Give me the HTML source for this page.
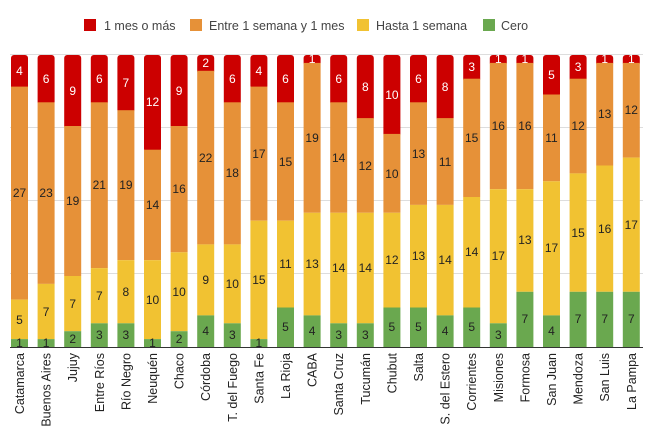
<!DOCTYPE html>
<html><head><meta charset="utf-8"><style>
body{margin:0;background:#fff;}
svg{display:block;font-family:"Liberation Sans",Arial,sans-serif;}
.w{fill:#fff;font-size:12px;text-anchor:middle}
.d{fill:#222;font-size:12px;text-anchor:middle}
.x{fill:#222;font-size:12.5px;text-anchor:end}
</style></head><body>
<svg width="651" height="448" viewBox="0 0 651 448">
<rect width="651" height="448" fill="#fff"/>
<g font-size="12.5" fill="#444">
<rect x="84" y="19" width="12" height="12" fill="#cc0000"/><text x="104" y="30">1 mes o más</text>
<rect x="190" y="19" width="12" height="12" fill="#e69138"/><text x="209" y="30">Entre 1 semana y 1 mes</text>
<rect x="357" y="19" width="12" height="12" fill="#f1c232"/><text x="376" y="30">Hasta 1 semana</text>
<rect x="483" y="19" width="12" height="12" fill="#6aa84f"/><text x="501" y="30">Cero</text>
</g>
<g stroke="#ddd" stroke-width="1">
<line x1="10" x2="643" y1="54.5" y2="54.5"/><line x1="10" x2="643" y1="127.5" y2="127.5"/><line x1="10" x2="643" y1="200.5" y2="200.5"/><line x1="10" x2="643" y1="273.5" y2="273.5"/>
</g>
<defs>
<g id="lbl"></g>
</defs>
<!-- bars: red(55..y3), orange(y3..y2), yellow(y2..y1), green(y1..347) -->
<g transform="translate(11,0)"><rect y="55" width="17" height="35" rx="3" fill="#cc0000"/><rect y="86.6" width="17" height="213" fill="#e69138"/><rect y="299.6" width="17" height="39.5" fill="#f1c232"/><rect y="339.1" width="17" height="7.9" fill="#6aa84f"/>
<text class="w" x="8.5" y="75">4</text><text class="d" x="8.5" y="197">27</text><text class="d" x="8.5" y="324">5</text><text class="d" x="8.5" y="347">1</text>
<text class="x" transform="translate(13,353) rotate(-90)">Catamarca</text></g>
<g transform="translate(37.6,0)"><rect y="55" width="17" height="50" rx="3" fill="#cc0000"/><rect y="102.3" width="17" height="181.6" fill="#e69138"/><rect y="283.9" width="17" height="55.2" fill="#f1c232"/><rect y="339.1" width="17" height="7.9" fill="#6aa84f"/>
<text class="w" x="8.5" y="83">6</text><text class="d" x="8.5" y="197">23</text><text class="d" x="8.5" y="316">7</text><text class="d" x="8.5" y="347">1</text>
<text class="x" transform="translate(13,353) rotate(-90)">Buenos Aires</text></g>
<g transform="translate(64.2,0)"><rect y="55" width="17" height="74" rx="3" fill="#cc0000"/><rect y="126" width="17" height="150" fill="#e69138"/><rect y="276" width="17" height="55.2" fill="#f1c232"/><rect y="331.2" width="17" height="15.8" fill="#6aa84f"/>
<text class="w" x="8.5" y="95">9</text><text class="d" x="8.5" y="205">19</text><text class="d" x="8.5" y="308">7</text><text class="d" x="8.5" y="343">2</text>
<text class="x" transform="translate(13,353) rotate(-90)">Jujuy</text></g>
<g transform="translate(90.8,0)"><rect y="55" width="17" height="50" rx="3" fill="#cc0000"/><rect y="102.3" width="17" height="165.8" fill="#e69138"/><rect y="268.1" width="17" height="55.2" fill="#f1c232"/><rect y="323.3" width="17" height="23.7" fill="#6aa84f"/>
<text class="w" x="8.5" y="83">6</text><text class="d" x="8.5" y="189">21</text><text class="d" x="8.5" y="300">7</text><text class="d" x="8.5" y="339">3</text>
<text class="x" transform="translate(13,353) rotate(-90)">Entre Ríos</text></g>
<g transform="translate(117.4,0)"><rect y="55" width="17" height="58" rx="3" fill="#cc0000"/><rect y="110.2" width="17" height="150" fill="#e69138"/><rect y="260.2" width="17" height="63.1" fill="#f1c232"/><rect y="323.3" width="17" height="23.7" fill="#6aa84f"/>
<text class="w" x="8.5" y="87">7</text><text class="d" x="8.5" y="189">19</text><text class="d" x="8.5" y="296">8</text><text class="d" x="8.5" y="339">3</text>
<text class="x" transform="translate(13,353) rotate(-90)">Río Negro</text></g>
<g transform="translate(144,0)"><rect y="55" width="17" height="97" rx="3" fill="#cc0000"/><rect y="149.7" width="17" height="110.5" fill="#e69138"/><rect y="260.2" width="17" height="78.9" fill="#f1c232"/><rect y="339.1" width="17" height="7.9" fill="#6aa84f"/>
<text class="w" x="8.5" y="106">12</text><text class="d" x="8.5" y="209">14</text><text class="d" x="8.5" y="304">10</text><text class="d" x="8.5" y="347">1</text>
<text class="x" transform="translate(13,353) rotate(-90)">Neuquén</text></g>
<g transform="translate(170.6,0)"><rect y="55" width="17" height="74" rx="3" fill="#cc0000"/><rect y="126" width="17" height="126.3" fill="#e69138"/><rect y="252.3" width="17" height="78.9" fill="#f1c232"/><rect y="331.2" width="17" height="15.8" fill="#6aa84f"/>
<text class="w" x="8.5" y="95">9</text><text class="d" x="8.5" y="193">16</text><text class="d" x="8.5" y="296">10</text><text class="d" x="8.5" y="343">2</text>
<text class="x" transform="translate(13,353) rotate(-90)">Chaco</text></g>
<g transform="translate(197.2,0)"><rect y="55" width="17" height="19" rx="3" fill="#cc0000"/><rect y="70.8" width="17" height="173.6" fill="#e69138"/><rect y="244.4" width="17" height="71" fill="#f1c232"/><rect y="315.4" width="17" height="31.6" fill="#6aa84f"/>
<text class="w" x="8.5" y="67">2</text><text class="d" x="8.5" y="162">22</text><text class="d" x="8.5" y="284">9</text><text class="d" x="8.5" y="335">4</text>
<text class="x" transform="translate(13,353) rotate(-90)">Córdoba</text></g>
<g transform="translate(223.8,0)"><rect y="55" width="17" height="50" rx="3" fill="#cc0000"/><rect y="102.3" width="17" height="142.1" fill="#e69138"/><rect y="244.4" width="17" height="78.9" fill="#f1c232"/><rect y="323.3" width="17" height="23.7" fill="#6aa84f"/>
<text class="w" x="8.5" y="83">6</text><text class="d" x="8.5" y="177">18</text><text class="d" x="8.5" y="288">10</text><text class="d" x="8.5" y="339">3</text>
<text class="x" transform="translate(13,353) rotate(-90)">T. del Fuego</text></g>
<g transform="translate(250.4,0)"><rect y="55" width="17" height="34" rx="3" fill="#cc0000"/><rect y="86.6" width="17" height="134.1" fill="#e69138"/><rect y="220.7" width="17" height="118.4" fill="#f1c232"/><rect y="339.1" width="17" height="7.9" fill="#6aa84f"/>
<text class="w" x="8.5" y="75">4</text><text class="d" x="8.5" y="158">17</text><text class="d" x="8.5" y="284">15</text><text class="d" x="8.5" y="347">1</text>
<text class="x" transform="translate(13,353) rotate(-90)">Santa Fe</text></g>
<g transform="translate(277,0)"><rect y="55" width="17" height="50" rx="3" fill="#cc0000"/><rect y="102.3" width="17" height="118.4" fill="#e69138"/><rect y="220.7" width="17" height="86.8" fill="#f1c232"/><rect y="307.5" width="17" height="39.5" fill="#6aa84f"/>
<text class="w" x="8.5" y="83">6</text><text class="d" x="8.5" y="166">15</text><text class="d" x="8.5" y="268">11</text><text class="d" x="8.5" y="331">5</text>
<text class="x" transform="translate(13,353) rotate(-90)">La Rioja</text></g>
<g transform="translate(303.6,0)"><rect y="55" width="17" height="11" rx="3" fill="#cc0000"/><rect y="62.9" width="17" height="149.9" fill="#e69138"/><rect y="212.8" width="17" height="102.6" fill="#f1c232"/><rect y="315.4" width="17" height="31.6" fill="#6aa84f"/>
<text class="w" x="8.5" y="63">1</text><text class="d" x="8.5" y="142">19</text><text class="d" x="8.5" y="268">13</text><text class="d" x="8.5" y="335">4</text>
<text class="x" transform="translate(13,353) rotate(-90)">CABA</text></g>
<g transform="translate(330.2,0)"><rect y="55" width="17" height="50" rx="3" fill="#cc0000"/><rect y="102.3" width="17" height="110.5" fill="#e69138"/><rect y="212.8" width="17" height="110.5" fill="#f1c232"/><rect y="323.3" width="17" height="23.7" fill="#6aa84f"/>
<text class="w" x="8.5" y="83">6</text><text class="d" x="8.5" y="162">14</text><text class="d" x="8.5" y="272">14</text><text class="d" x="8.5" y="339">3</text>
<text class="x" transform="translate(13,353) rotate(-90)">Santa Cruz</text></g>
<g transform="translate(356.8,0)"><rect y="55" width="17" height="66" rx="3" fill="#cc0000"/><rect y="118.1" width="17" height="94.7" fill="#e69138"/><rect y="212.8" width="17" height="110.5" fill="#f1c232"/><rect y="323.3" width="17" height="23.7" fill="#6aa84f"/>
<text class="w" x="8.5" y="91">8</text><text class="d" x="8.5" y="170">12</text><text class="d" x="8.5" y="272">14</text><text class="d" x="8.5" y="339">3</text>
<text class="x" transform="translate(13,353) rotate(-90)">Tucumán</text></g>
<g transform="translate(383.4,0)"><rect y="55" width="17" height="82" rx="3" fill="#cc0000"/><rect y="133.9" width="17" height="78.9" fill="#e69138"/><rect y="212.8" width="17" height="94.7" fill="#f1c232"/><rect y="307.5" width="17" height="39.5" fill="#6aa84f"/>
<text class="w" x="8.5" y="99">10</text><text class="d" x="8.5" y="178">10</text><text class="d" x="8.5" y="264">12</text><text class="d" x="8.5" y="331">5</text>
<text class="x" transform="translate(13,353) rotate(-90)">Chubut</text></g>
<g transform="translate(410,0)"><rect y="55" width="17" height="50" rx="3" fill="#cc0000"/><rect y="102.3" width="17" height="102.6" fill="#e69138"/><rect y="204.9" width="17" height="102.6" fill="#f1c232"/><rect y="307.5" width="17" height="39.5" fill="#6aa84f"/>
<text class="w" x="8.5" y="83">6</text><text class="d" x="8.5" y="158">13</text><text class="d" x="8.5" y="260">13</text><text class="d" x="8.5" y="331">5</text>
<text class="x" transform="translate(13,353) rotate(-90)">Salta</text></g>
<g transform="translate(436.6,0)"><rect y="55" width="17" height="66" rx="3" fill="#cc0000"/><rect y="118.1" width="17" height="86.8" fill="#e69138"/><rect y="204.9" width="17" height="110.5" fill="#f1c232"/><rect y="315.4" width="17" height="31.6" fill="#6aa84f"/>
<text class="w" x="8.5" y="91">8</text><text class="d" x="8.5" y="166">11</text><text class="d" x="8.5" y="264">14</text><text class="d" x="8.5" y="335">4</text>
<text class="x" transform="translate(13,353) rotate(-90)">S. del Estero</text></g>
<g transform="translate(463.2,0)"><rect y="55" width="17" height="27" rx="3" fill="#cc0000"/><rect y="78.7" width="17" height="118.3" fill="#e69138"/><rect y="197" width="17" height="110.5" fill="#f1c232"/><rect y="307.5" width="17" height="39.5" fill="#6aa84f"/>
<text class="w" x="8.5" y="71">3</text><text class="d" x="8.5" y="142">15</text><text class="d" x="8.5" y="256">14</text><text class="d" x="8.5" y="331">5</text>
<text class="x" transform="translate(13,353) rotate(-90)">Corrientes</text></g>
<g transform="translate(489.8,0)"><rect y="55" width="17" height="11" rx="3" fill="#cc0000"/><rect y="62.9" width="17" height="126.3" fill="#e69138"/><rect y="189.2" width="17" height="134.1" fill="#f1c232"/><rect y="323.3" width="17" height="23.7" fill="#6aa84f"/>
<text class="w" x="8.5" y="63">1</text><text class="d" x="8.5" y="130">16</text><text class="d" x="8.5" y="260">17</text><text class="d" x="8.5" y="339">3</text>
<text class="x" transform="translate(13,353) rotate(-90)">Misiones</text></g>
<g transform="translate(516.4,0)"><rect y="55" width="17" height="11" rx="3" fill="#cc0000"/><rect y="62.9" width="17" height="126.3" fill="#e69138"/><rect y="189.2" width="17" height="102.6" fill="#f1c232"/><rect y="291.8" width="17" height="55.2" fill="#6aa84f"/>
<text class="w" x="8.5" y="63">1</text><text class="d" x="8.5" y="130">16</text><text class="d" x="8.5" y="244">13</text><text class="d" x="8.5" y="323">7</text>
<text class="x" transform="translate(13,353) rotate(-90)">Formosa</text></g>
<g transform="translate(543,0)"><rect y="55" width="17" height="42" rx="3" fill="#cc0000"/><rect y="94.5" width="17" height="86.8" fill="#e69138"/><rect y="181.3" width="17" height="134.1" fill="#f1c232"/><rect y="315.4" width="17" height="31.6" fill="#6aa84f"/>
<text class="w" x="8.5" y="79">5</text><text class="d" x="8.5" y="142">11</text><text class="d" x="8.5" y="252">17</text><text class="d" x="8.5" y="335">4</text>
<text class="x" transform="translate(13,353) rotate(-90)">San Juan</text></g>
<g transform="translate(569.6,0)"><rect y="55" width="17" height="27" rx="3" fill="#cc0000"/><rect y="78.7" width="17" height="94.7" fill="#e69138"/><rect y="173.4" width="17" height="118.4" fill="#f1c232"/><rect y="291.8" width="17" height="55.2" fill="#6aa84f"/>
<text class="w" x="8.5" y="71">3</text><text class="d" x="8.5" y="130">12</text><text class="d" x="8.5" y="237">15</text><text class="d" x="8.5" y="323">7</text>
<text class="x" transform="translate(13,353) rotate(-90)">Mendoza</text></g>
<g transform="translate(596.2,0)"><rect y="55" width="17" height="11" rx="3" fill="#cc0000"/><rect y="62.9" width="17" height="102.6" fill="#e69138"/><rect y="165.5" width="17" height="126.3" fill="#f1c232"/><rect y="291.8" width="17" height="55.2" fill="#6aa84f"/>
<text class="w" x="8.5" y="63">1</text><text class="d" x="8.5" y="118">13</text><text class="d" x="8.5" y="233">16</text><text class="d" x="8.5" y="323">7</text>
<text class="x" transform="translate(13,353) rotate(-90)">San Luis</text></g>
<g transform="translate(622.8,0)"><rect y="55" width="17" height="11" rx="3" fill="#cc0000"/><rect y="62.9" width="17" height="94.7" fill="#e69138"/><rect y="157.6" width="17" height="134.2" fill="#f1c232"/><rect y="291.8" width="17" height="55.2" fill="#6aa84f"/>
<text class="w" x="8.5" y="63">1</text><text class="d" x="8.5" y="114">12</text><text class="d" x="8.5" y="229">17</text><text class="d" x="8.5" y="323">7</text>
<text class="x" transform="translate(13,353) rotate(-90)">La Pampa</text></g>
<line x1="10" x2="643" y1="347.5" y2="347.5" stroke="#333" stroke-width="1"/>
</svg>
</body></html>
